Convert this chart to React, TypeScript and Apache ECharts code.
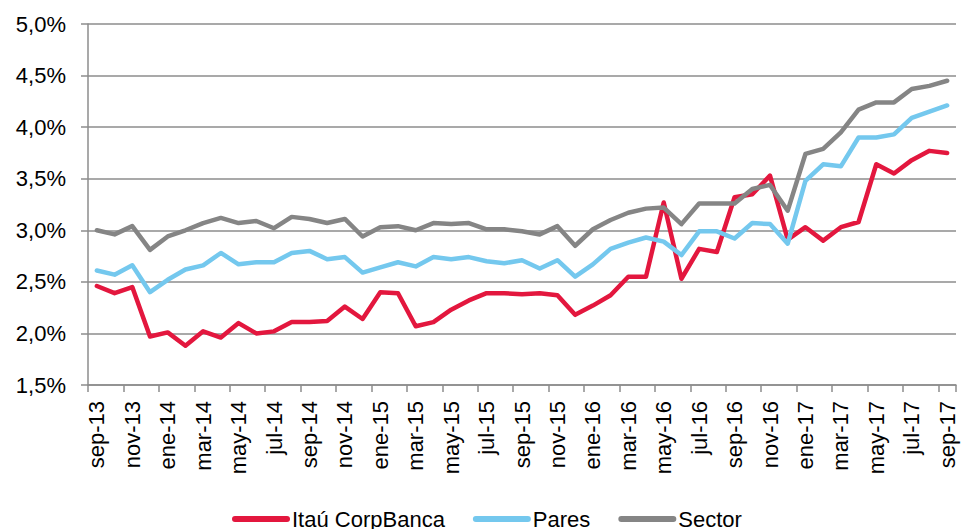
import React, { useEffect, useRef } from "react";
import * as echarts from "echarts";

const categories = [
  "sep-13", "oct-13", "nov-13", "dic-13",
  "ene-14", "feb-14", "mar-14", "abr-14", "may-14", "jun-14", "jul-14", "ago-14", "sep-14", "oct-14", "nov-14", "dic-14",
  "ene-15", "feb-15", "mar-15", "abr-15", "may-15", "jun-15", "jul-15", "ago-15", "sep-15", "oct-15", "nov-15", "dic-15",
  "ene-16", "feb-16", "mar-16", "abr-16", "may-16", "jun-16", "jul-16", "ago-16", "sep-16", "oct-16", "nov-16", "dic-16",
  "ene-17", "feb-17", "mar-17", "abr-17", "may-17", "jun-17", "jul-17", "ago-17", "sep-17",
];

const itau = [
  2.46, 2.39, 2.45, 1.97, 2.01, 1.88, 2.02, 1.96, 2.10, 2.00, 2.02, 2.11, 2.11,
  2.12, 2.26, 2.14, 2.40, 2.39, 2.07, 2.11, 2.23, 2.32, 2.39, 2.39, 2.38, 2.39,
  2.37, 2.18, 2.27, 2.37, 2.55, 2.55, 3.27, 2.53, 2.82, 2.79, 3.32, 3.35, 3.53,
  2.91, 3.03, 2.90, 3.03, 3.08, 3.64, 3.55, 3.68, 3.77, 3.75,
];

const pares = [
  2.61, 2.57, 2.66, 2.40, 2.52, 2.62, 2.66, 2.78, 2.67, 2.69, 2.69, 2.78, 2.80,
  2.72, 2.74, 2.59, 2.64, 2.69, 2.65, 2.74, 2.72, 2.74, 2.70, 2.68, 2.71, 2.63,
  2.71, 2.55, 2.67, 2.82, 2.88, 2.93, 2.89, 2.76, 2.99, 2.99, 2.92, 3.07, 3.06,
  2.87, 3.48, 3.64, 3.62, 3.90, 3.90, 3.93, 4.09, 4.15, 4.21,
];

const sector = [
  3.00, 2.96, 3.04, 2.81, 2.94, 3.00, 3.07, 3.12, 3.07, 3.09, 3.02, 3.13, 3.11,
  3.07, 3.11, 2.94, 3.03, 3.04, 3.00, 3.07, 3.06, 3.07, 3.01, 3.01, 2.99, 2.96,
  3.04, 2.85, 3.01, 3.10, 3.17, 3.21, 3.22, 3.06, 3.26, 3.26, 3.26, 3.40, 3.44,
  3.19, 3.74, 3.79, 3.95, 4.17, 4.24, 4.24, 4.37, 4.40, 4.45,
];

const seriesNames = ["Itaú CorpBanca", "Pares", "Sector"];
const seriesColors = ["#E3173E", "#74C8EE", "#858585"];

const FONT = "'Liberation Sans', Arial, sans-serif";

export default function App() {
  const ref = useRef<HTMLDivElement>(null);

  useEffect(() => {
    if (!ref.current) return;
    const chart = echarts.init(ref.current, null, { renderer: "svg" });
    const dataSets = [itau, pares, sector];
    chart.setOption({
      animation: false,
      backgroundColor: "#ffffff",
      textStyle: { fontFamily: FONT },
      grid: { left: 88, right: 5, top: 24, bottom: 144, containLabel: false },
      legend: {
        data: seriesNames,
        left: 227,
        top: 503,
        itemWidth: 52,
        itemHeight: 22,
        itemGap: 28,
        lineStyle: { width: 6, cap: "round" },
        itemStyle: { opacity: 0, borderWidth: 0 },
        textStyle: { fontSize: 22, color: "#000", fontFamily: FONT },
      },
      xAxis: {
        type: "category",
        data: categories,
        boundaryGap: true,
        axisLine: { show: true, lineStyle: { color: "#8c8c8c", width: 1.5 } },
        axisTick: { show: true, interval: 1, length: 7, lineStyle: { color: "#8c8c8c", width: 1.5 } },
        axisLabel: {
          interval: 1,
          rotate: 90,
          margin: 16,
          fontSize: 22,
          color: "#000",
          fontFamily: FONT,
        },
        splitLine: { show: false },
      },
      yAxis: {
        type: "value",
        min: 1.5,
        max: 5,
        interval: 0.5,
        axisLine: { show: true, lineStyle: { color: "#8c8c8c", width: 1.5 } },
        axisTick: { show: true, length: 7, lineStyle: { color: "#8c8c8c", width: 1.5 } },
        axisLabel: {
          margin: 22,
          fontSize: 22,
          color: "#000",
          fontFamily: FONT,
          formatter: (v: number) => v.toFixed(1).replace(".", ",") + "%",
        },
        splitLine: { show: true, lineStyle: { color: "#8c8c8c", width: 1.5 } },
      },
      series: seriesNames.map((name, i) => ({
        name,
        type: "line",
        data: dataSets[i],
        color: seriesColors[i],
        symbol: "none",
        showSymbol: false,
        lineStyle: { color: seriesColors[i], width: 4.5, cap: "round", join: "round" },
      })),
    });
    return () => chart.dispose();
  }, []);

  return (
    <div
      ref={ref}
      style={{ position: "fixed", left: 0, top: 0, width: 961, height: 529, background: "#fff" }}
    />
  );
}
